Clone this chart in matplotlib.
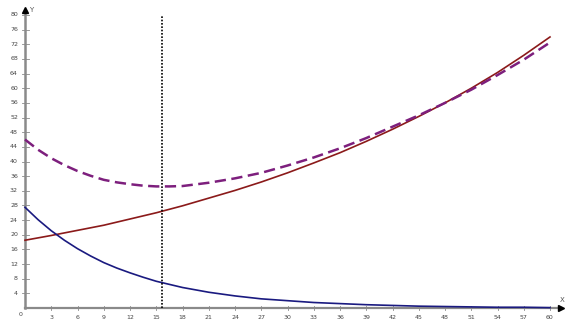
import matplotlib
matplotlib.use("Agg")
import matplotlib.pyplot as plt

x_vals = [0, 3, 6, 9, 12, 15, 18, 21, 24, 27, 30, 33, 36, 39, 42, 45, 48, 51, 54, 57, 60]
red_vals = [18.5, 19.8, 21.2, 22.6, 24.3, 26.0, 27.9, 30.0, 32.1, 34.4, 36.9,
            39.6, 42.4, 45.5, 48.8, 52.3, 56.0, 60.0, 64.3, 69.0, 74.0]
blue_x = [0, 1.5, 3, 4.5, 6, 7.5, 9, 10.5, 12, 13.5, 15, 18, 21, 24, 27, 30, 33, 36,
          39, 42, 45, 48, 51, 54, 57, 60]
blue_vals = [27.5, 24.1, 21.1, 18.5, 16.2, 14.2, 12.4, 10.9, 9.6, 8.4, 7.3, 5.6, 4.3,
             3.3, 2.5, 2.0, 1.5, 1.2, 0.9, 0.7, 0.5, 0.4, 0.3, 0.2, 0.2, 0.1]
purple_x = [0, 1.5, 3, 4.5, 6, 7.5, 9, 10.5, 12, 13.5, 15, 16.5, 18, 21, 24, 27, 30,
            33, 36, 39, 42, 45, 48, 51, 54, 57, 60]
purple_vals = [46.0, 43.2, 40.9, 39.0, 37.4, 36.1, 35.0, 34.3, 33.8, 33.4, 33.2, 33.2,
               33.3, 34.2, 35.4, 36.9, 38.9, 41.1, 43.6, 46.4, 49.5, 52.6, 56.0, 59.6,
               63.6, 67.8, 72.5]
vline_x = 15.7
x_ticks = list(range(3, 61, 3))
y_ticks = list(range(4, 81, 4))

fig = plt.figure(figsize=(5.75, 3.24), dpi=100)
ax = fig.add_axes([25/575, 16/324, 525/575, 293/324])
ax.set_xlim(0, 60)
ax.set_ylim(0, 80)
for s in ax.spines.values():
    s.set_visible(False)
ax.set_xticks([])
ax.set_yticks([])

axis_col = "#8a8a8a"
ax.plot([0, 61.2], [0, 0], color=axis_col, lw=1.6, clip_on=False, zorder=1)
ax.plot([0, 0], [0, 81.5], color=axis_col, lw=1.8, clip_on=False, zorder=1)
ax.plot([61.2], [0], marker=">", color="black", ms=4, clip_on=False)
ax.plot([0], [81.5], marker="^", color="black", ms=4, clip_on=False)
ax.text(0.5, 81.5, "Y", fontsize=5, color="#555555", va="center", ha="left")
ax.text(61.4, 1.3, "X", fontsize=5, color="#555555", va="bottom", ha="center")

for t in x_ticks:
    ax.plot([t, t], [-0.6, 0.6], color=axis_col, lw=0.6, clip_on=False)
    ax.text(t, -1.8, str(t), fontsize=4.5, color="#444444", ha="center", va="top")
for t in y_ticks:
    ax.plot([-0.4, 0.4], [t, t], color=axis_col, lw=0.6, clip_on=False)
    ax.text(-0.8, t, str(t), fontsize=4.5, color="#444444", ha="right", va="center")
ax.text(-0.5, -1.0, "0", fontsize=4.5, color="#444444", ha="center", va="top")

ax.plot(x_vals, red_vals, color="#8b1a1a", lw=1.2, zorder=3, clip_on=False)
ax.plot(blue_x, blue_vals, color="#1a1a80", lw=1.2, zorder=3, clip_on=False)
ax.plot(purple_x, purple_vals, color="#7d1f7d", lw=1.8, dashes=(4.5, 2.2), zorder=3, clip_on=False)
ax.plot([vline_x, vline_x], [0, 80], color="black", lw=1.2, ls=(0, (1, 1)), zorder=4)

fig.savefig("out.png", dpi=100)
